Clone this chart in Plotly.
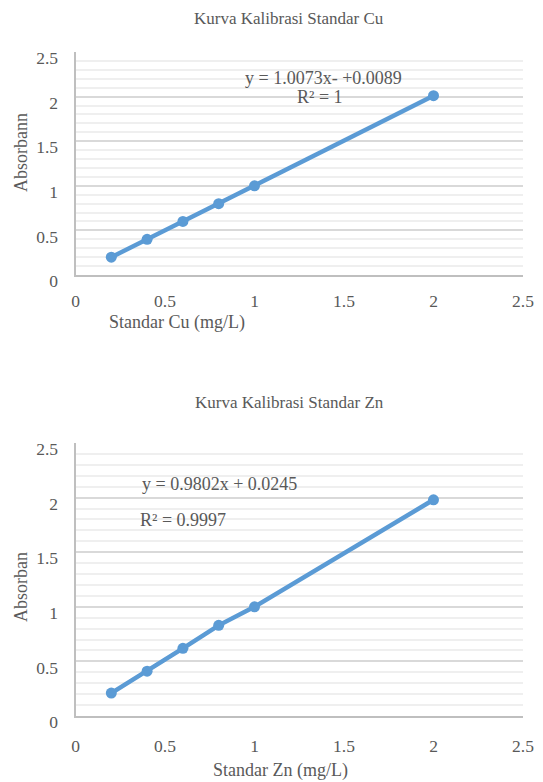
import plotly.graph_objects as go

x_cu = [0.2, 0.4, 0.6, 0.8, 1.0, 2.0]
y_cu = [0.2, 0.4, 0.6, 0.8, 1.0, 2.01]
x_zn = [0.2, 0.4, 0.6, 0.8, 1.0, 2.0]
y_zn = [0.21, 0.41, 0.62, 0.83, 1.0, 1.98]
tick_vals = [0, 0.5, 1, 1.5, 2, 2.5]
tick_text = ["0", "0.5", "1", "1.5", "2", "2.5"]

BLUE = "#5B9BD5"
TXT = "#595959"
FONT = "'Liberation Serif', 'Times New Roman', serif"

# page body has an 8px margin; work in window pixels and subtract it
OFF = 8
W, H = 543 - OFF, 782 - OFF

def px(x):
    return (x - OFF) / W

def py(y):
    return 1 - (y - OFF) / H

fig = go.Figure()
fig.add_trace(go.Scatter(x=x_cu, y=y_cu, mode="lines+markers", xaxis="x", yaxis="y",
                         line=dict(color=BLUE, width=4.5), marker=dict(color=BLUE, size=11),
                         showlegend=False, hoverinfo="skip"))
fig.add_trace(go.Scatter(x=x_zn, y=y_zn, mode="lines+markers", xaxis="x2", yaxis="y2",
                         line=dict(color=BLUE, width=4.5), marker=dict(color=BLUE, size=11),
                         showlegend=False, hoverinfo="skip"))

xd = [px(75.5), px(523)]
yd1 = [py(275), py(52)]
yd2 = [py(716), py(443)]

def xax(domain, anchor, standoff):
    return dict(domain=domain, anchor=anchor, range=[0, 2.5], tickvals=tick_vals, ticktext=tick_text,
                showgrid=False, zeroline=False, showline=True, linecolor="#BFBFBF", linewidth=2,
                ticks="", tickfont=dict(family=FONT, size=17.5, color=TXT), ticklabelstandoff=standoff,
                fixedrange=True, automargin=False)

def yax(domain, anchor):
    return dict(domain=domain, anchor=anchor, range=[0, 2.5], tickvals=tick_vals, ticktext=tick_text,
                showgrid=True, gridcolor="#D9D9D9", gridwidth=1.5, zeroline=False, showline=True,
                linecolor="#BFBFBF", linewidth=2, ticks="",
                minor=dict(dtick=0.1, showgrid=True, gridcolor="#EFEFEF", gridwidth=1.5),
                tickfont=dict(family=FONT, size=17.5, color=TXT), ticklabelstandoff=12,
                ticklabelshift=6, fixedrange=True, automargin=False)

fig.update_layout(
    width=W, height=H, margin=dict(l=0, r=0, t=0, b=0),
    paper_bgcolor="white", plot_bgcolor="white",
    font=dict(family=FONT, color=TXT),
    xaxis=xax(xd, "y", 9), yaxis=yax(yd1, "x"),
    xaxis2=xax(xd, "y2", 13), yaxis2=yax(yd2, "x2"),
)

def ann(text, x, y, size=18, angle=0, xanchor="center"):
    fig.add_annotation(text=text, x=px(x), y=py(y), xref="paper", yref="paper",
                       showarrow=False, textangle=angle, xanchor=xanchor, yanchor="middle",
                       font=dict(family=FONT, size=size, color=TXT))

ann("Kurva Kalibrasi Standar Cu", 289, 19, 17)
ann("Kurva Kalibrasi Standar Zn", 289, 402, 17)
ann("Standar Cu (mg/L)", 176.5, 322, 18)
ann("Standar Zn (mg/L)", 280, 770, 18)
ann("Absorbann", 21, 153, 18, -90)
ann("Absorban", 21, 587, 18, -90)
ann("y = 1.0073x- +0.0089", 323.5, 78, 18)
ann("R² = 1", 320, 97, 18)
ann("y = 0.9802x + 0.0245", 140, 484, 18, xanchor="left")
ann("R² = 0.9997", 137.5, 520, 18, xanchor="left")

fig.write_html("out.html")
